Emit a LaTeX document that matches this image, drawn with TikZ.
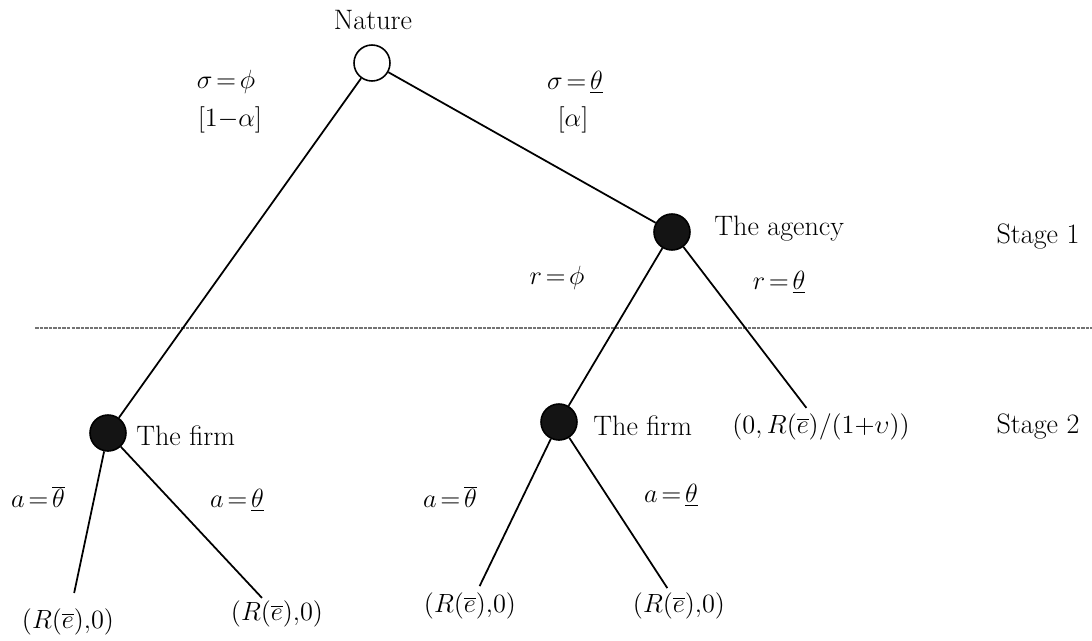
\documentclass[tikz,border=0pt]{standalone}
\usepackage{fix-cm}
\newcommand{\tighteq}{\mkern-2.5mu=\mkern-2.5mu}
\begin{document}
\begin{tikzpicture}[x=0.02cm,y=-0.02cm,
  txt/.style={font=\fontsize{16}{19}\selectfont, inner sep=0pt},
  mth/.style={font=\fontsize{15}{18}\selectfont, inner sep=0pt},
  circ/.style={circle, draw, line width=0.9pt, minimum size=0.72cm, inner sep=0pt},
  player/.style={circ, fill=black!92},
  leaf/.style={mth},
  edge/.style={line width=1pt},
  stageline/.style={line width=0.6pt, black!55, dash pattern=on 2pt off 0.6pt}]
\useasboundingbox (0,0) rectangle (1092,640);
% stage separator
\coordinate (sl) at (35,328);
\coordinate (sr) at (1092,328);
\draw[stageline] (sl) -- (sr);
% decision nodes
\node[circ, fill=white] (nature) at (372,63) {};
\node[player] (agency) at (672,232) {};
\node[player] (firm1) at (108,433) {};
\node[player] (firm2) at (559,422) {};
% terminal payoffs
\node[leaf] (ll) at (68,622) {$\bigl(R(\overline{e}){,}0\bigr)$};
\node[leaf] (lr) at (277,614) {$\bigl(R(\overline{e}){,}0\bigr)$};
\node[leaf] (ml) at (470,606) {$\bigl(R(\overline{e}){,}0\bigr)$};
\node[leaf] (mr) at (679,606) {$\bigl(R(\overline{e}){,}0\bigr)$};
\node[leaf] (rl) at (821,427) {$\bigl(0,R(\overline{e})\big/(1{+}\upsilon)\bigr)$};
% edges
\draw[edge] (nature) -- (firm1);
\draw[edge] (nature) -- (agency);
\draw[edge] (agency) -- (firm2);
\draw[edge, shorten >=4pt] (agency) -- (rl);
\draw[edge, shorten >=9pt] (firm1) -- (ll);
\draw[edge, shorten >=2pt] (firm1) -- (lr);
\draw[edge, shorten >=4pt] (firm2) -- (ml);
\draw[edge, shorten >=3pt] (firm2) -- (mr);
% labels
\node[txt] (lnature) at (373,20) {Nature};
\node[txt, anchor=west] (lagency) at (714,229) {The agency};
\node[txt, anchor=west] (lfirm1) at (136,436) {The firm};
\node[txt, anchor=west] (lfirm2) at (593,426) {The firm};
\node[txt] (st1) at (1038,237) {Stage 1};
\node[txt] (st2) at (1038,427) {Stage 2};
\node[mth] (s1) at (226,82) {$\sigma\tighteq\phi$};
\node[mth] (p1) at (230,120) {$\bigl[1{-}\alpha\bigr]$};
\node[mth] (s2) at (575,82) {$\sigma\tighteq\underline{\theta}$};
\node[mth] (p2) at (573,120) {$\bigl[\alpha\bigr]$};
\node[mth] (r1) at (557,278) {$r\tighteq\phi$};
\node[mth] (r2) at (779,282) {$r\tighteq\underline{\theta}$};
\node[mth] (a1) at (38,497) {$a\tighteq\overline{\theta}$};
\node[mth] (a2) at (237,500) {$a\tighteq\underline{\theta}$};
\node[mth] (a3) at (450,497) {$a\tighteq\overline{\theta}$};
\node[mth] (a4) at (671,495) {$a\tighteq\underline{\theta}$};
\end{tikzpicture}
\end{document}
